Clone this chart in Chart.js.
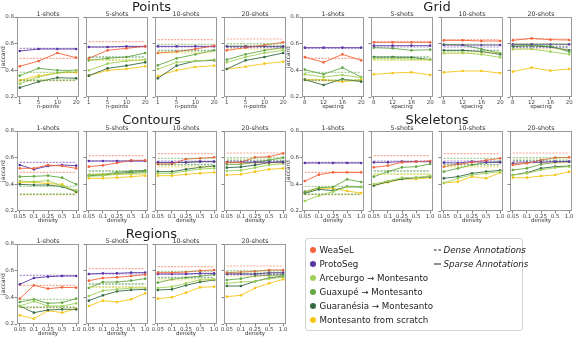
<!DOCTYPE html>
<html><head><meta charset="utf-8">
<script src="https://cdn.jsdelivr.net/npm/chart.js@4.4.1/dist/chart.umd.min.js"></script>
<style>
html,body{margin:0;padding:0;background:#fff;}
body{width:575px;height:337px;position:relative;overflow:hidden;font-family:"DejaVu Sans",sans-serif;}
canvas{position:absolute;}
.t{position:absolute;transform:translate(-50%,-50%);white-space:nowrap;line-height:1;color:#222;}
.sup{font-size:13px;}
.sub{font-size:6.3px;color:#333;}
#legend{position:absolute;left:305px;top:238px;width:216px;height:91px;border:1px solid #d3d3d3;border-radius:3px;background:#fff;}
.li{position:absolute;font-size:8.7px;line-height:1;white-space:nowrap;color:#222;transform:translateY(-50%);}
.dot{position:absolute;width:6px;height:6px;border-radius:50%;transform:translate(-50%,-50%);}
.ls{position:absolute;width:7px;height:0;transform:translateY(-50%);}
</style></head><body>
<script>
// ---------- categories / labels ----------
const shots = ['1-shots', '5-shots', '10-shots', '20-shots'];
const methods = ['WeaSeL', 'ProtoSeg', 'Arceburgo \u2192 Montesanto', 'Guaxup\u00e9 \u2192 Montesanto', 'Guaran\u00e9sia \u2192 Montesanto', 'Montesanto from scratch'];
const nPointsLabels = ['1', '5', '10', '20'];
const spacingLabels = ['8', '12', '16', '20'];
const densityLabels = ['0.05', '0.1', '0.25', '0.5', '1.0'];
const yTicks = [0.2, 0.4, 0.6, 0.8];

// ---------- dense annotation baselines (one value per shot) ----------
const denseWeaSeL = [0.49, 0.615, 0.63, 0.635];
const denseProtoSeg = [0.565, 0.575, 0.575, 0.57];
const denseArceburgo = [0.33, 0.48, 0.54, 0.59];
const denseGuaxupe = [0.385, 0.50, 0.595, 0.60];
const denseGuaranesia = [0.325, 0.50, 0.55, 0.58];
const denseMontesanto = [0.32, 0.475, 0.53, 0.56];

// ---------- sparse annotations: rows = shots ----------
const pointsWeaSeL = [[0.43,0.47,0.53,0.495],[0.49,0.55,0.565,0.58],[0.53,0.54,0.56,0.585],[0.55,0.57,0.59,0.61]];
const pointsProtoSeg = [[0.545,0.56,0.56,0.56],[0.575,0.575,0.58,0.58],[0.58,0.58,0.58,0.58],[0.58,0.58,0.58,0.58]];
const pointsArceburgo = [[0.30,0.35,0.38,0.40],[0.40,0.45,0.47,0.48],[0.41,0.46,0.47,0.48],[0.46,0.50,0.53,0.55]];
const pointsGuaxupe = [[0.36,0.415,0.40,0.40],[0.475,0.49,0.50,0.53],[0.4375,0.49,0.52,0.55],[0.48,0.52,0.55,0.57]];
const pointsGuaranesia = [[0.27,0.315,0.345,0.34],[0.36,0.415,0.435,0.46],[0.34,0.435,0.47,0.475],[0.41,0.475,0.50,0.53]];
const pointsMontesanto = [[0.325,0.36,0.38,0.385],[0.36,0.40,0.41,0.43],[0.3575,0.40,0.425,0.435],[0.41,0.4275,0.45,0.465]];

const gridWeaSeL = [[0.50,0.46,0.52,0.475],[0.61,0.61,0.61,0.61],[0.625,0.625,0.62,0.62],[0.625,0.64,0.63,0.6275]];
const gridProtoSeg = [[0.57,0.57,0.57,0.57],[0.585,0.585,0.585,0.585],[0.59,0.59,0.59,0.59],[0.595,0.595,0.595,0.595]];
const gridArceburgo = [[0.37,0.35,0.365,0.345],[0.49,0.49,0.485,0.48],[0.5275,0.53,0.52,0.4975],[0.5575,0.56,0.54,0.52]];
const gridGuaxupe = [[0.405,0.37,0.42,0.35],[0.57,0.565,0.55,0.555],[0.595,0.59,0.56,0.5275],[0.59,0.59,0.58,0.54]];
const gridGuaranesia = [[0.33,0.29,0.335,0.315],[0.50,0.50,0.4975,0.48],[0.55,0.55,0.54,0.52],[0.58,0.585,0.575,0.55]];
const gridMontesanto = [[0.33,0.33,0.315,0.33],[0.37,0.38,0.385,0.365],[0.385,0.395,0.395,0.38],[0.39,0.42,0.3975,0.41]];

const contoursWeaSeL = [[0.52,0.52,0.545,0.5375,0.52],[0.5325,0.5425,0.56,0.58,0.58],[0.5525,0.5525,0.59,0.595,0.6025],[0.565,0.565,0.6025,0.6075,0.6325]];
const contoursProtoSeg = [[0.545,0.5125,0.5375,0.545,0.54],[0.575,0.575,0.575,0.575,0.575],[0.565,0.565,0.565,0.57,0.57],[0.565,0.565,0.565,0.565,0.565]];
const contoursArceburgo = [[0.425,0.42,0.4275,0.3875,0.355],[0.46,0.465,0.475,0.48,0.49],[0.4825,0.4825,0.50,0.515,0.52],[0.50,0.505,0.525,0.545,0.555]];
const contoursGuaxupe = [[0.4575,0.46,0.465,0.45,0.40],[0.47,0.475,0.49,0.50,0.505],[0.5625,0.5625,0.565,0.57,0.57],[0.55,0.55,0.565,0.5825,0.60]];
const contoursGuaranesia = [[0.40,0.395,0.395,0.3825,0.345],[0.465,0.47,0.48,0.49,0.495],[0.495,0.495,0.5125,0.5275,0.5375],[0.525,0.53,0.545,0.5625,0.57]];
const contoursMontesanto = [[0.415,0.415,0.405,0.40,0.34],[0.445,0.445,0.45,0.4575,0.465],[0.465,0.465,0.475,0.4825,0.49],[0.47,0.475,0.495,0.5125,0.52]];

const skeletonsWeaSeL = [[0.425,0.4725,0.49,0.49,0.49],[0.5275,0.54,0.565,0.57,0.575],[0.5325,0.55,0.565,0.58,0.595],[0.545,0.5575,0.5825,0.60,0.6025]];
const skeletonsProtoSeg = [[0.56,0.56,0.56,0.56,0.56],[0.565,0.565,0.57,0.57,0.57],[0.5625,0.56,0.57,0.565,0.565],[0.5575,0.5625,0.565,0.57,0.57]];
const skeletonsArceburgo = [[0.275,0.315,0.345,0.38,0.3825],[0.4025,0.425,0.45,0.45,0.465],[0.41,0.445,0.47,0.4825,0.495],[0.47,0.4825,0.5075,0.525,0.5325]];
const skeletonsGuaxupe = [[0.345,0.375,0.38,0.4375,0.4175],[0.4575,0.495,0.5275,0.5325,0.5525],[0.495,0.52,0.545,0.565,0.57],[0.5075,0.52,0.55,0.565,0.57]];
const skeletonsGuaranesia = [[0.3325,0.3625,0.3525,0.3825,0.38],[0.39,0.42,0.44,0.45,0.4575],[0.445,0.4575,0.4825,0.495,0.505],[0.47,0.4875,0.52,0.5325,0.5375]];
const skeletonsMontesanto = [[0.34,0.37,0.37,0.35,0.335],[0.395,0.415,0.44,0.44,0.45],[0.41,0.42,0.4575,0.445,0.4875],[0.45,0.45,0.4625,0.47,0.495]];

const regionsWeaSeL = [[0.39,0.49,0.465,0.475,0.4725],[0.525,0.545,0.55,0.56,0.57],[0.585,0.585,0.59,0.60,0.605],[0.585,0.59,0.595,0.605,0.605]];
const regionsProtoSeg = [[0.4975,0.545,0.555,0.56,0.56],[0.575,0.58,0.58,0.585,0.585],[0.575,0.575,0.575,0.58,0.58],[0.575,0.575,0.575,0.585,0.585]];
const regionsArceburgo = [[0.335,0.37,0.335,0.335,0.355],[0.41,0.45,0.46,0.47,0.47],[0.47,0.48,0.505,0.53,0.535],[0.505,0.515,0.52,0.54,0.55]];
const regionsGuaxupe = [[0.365,0.385,0.355,0.36,0.39],[0.47,0.515,0.515,0.525,0.54],[0.51,0.535,0.547,0.56,0.57],[0.53,0.54,0.56,0.565,0.57]];
const regionsGuaranesia = [[0.335,0.285,0.305,0.31,0.31],[0.375,0.415,0.445,0.455,0.46],[0.455,0.46,0.49,0.515,0.53],[0.485,0.485,0.52,0.545,0.56]];
const regionsMontesanto = [[0.265,0.24,0.30,0.285,0.315],[0.335,0.375,0.365,0.385,0.43],[0.39,0.40,0.435,0.475,0.48],[0.405,0.415,0.47,0.505,0.535]];

// ---------- styling ----------
const COLORS = ['#f4633a', '#5b35a6', '#9fd15a', '#64a845', '#366b45', '#f5c518'];
const FONT = 'DejaVu Sans';
const denseAll = [denseWeaSeL, denseProtoSeg, denseArceburgo, denseGuaxupe, denseGuaranesia, denseMontesanto];

function rgba(hex, a) {
  const n = parseInt(hex.slice(1), 16);
  return `rgba(${(n >> 16) & 255},${(n >> 8) & 255},${n & 255},${a})`;
}

const boxPlugin = {
  id: 'boxBorder',
  afterDatasetsDraw(chart) {
    const a = chart.chartArea, ctx = chart.ctx;
    ctx.save();
    ctx.strokeStyle = '#9a9a9a';
    ctx.lineWidth = 1;
    ctx.strokeRect(Math.round(a.left) + 0.5, Math.round(a.top) + 0.5, Math.round(a.right - a.left) - 1, Math.round(a.bottom - a.top) - 1);
    ctx.restore();
  }
};

const groups = [
  {title: 'Points', x0: 17, step: 69, top: 17, labels: nPointsLabels, xTitle: 'n-points',
   series: [pointsWeaSeL, pointsProtoSeg, pointsArceburgo, pointsGuaxupe, pointsGuaranesia, pointsMontesanto]},
  {title: 'Grid', x0: 302, step: 69.4, top: 17, labels: spacingLabels, xTitle: 'spacing',
   series: [gridWeaSeL, gridProtoSeg, gridArceburgo, gridGuaxupe, gridGuaranesia, gridMontesanto]},
  {title: 'Contours', x0: 17, step: 69, top: 131, labels: densityLabels, xTitle: 'density',
   series: [contoursWeaSeL, contoursProtoSeg, contoursArceburgo, contoursGuaxupe, contoursGuaranesia, contoursMontesanto]},
  {title: 'Skeletons', x0: 302, step: 69.4, top: 131, labels: densityLabels, xTitle: 'density',
   series: [skeletonsWeaSeL, skeletonsProtoSeg, skeletonsArceburgo, skeletonsGuaxupe, skeletonsGuaranesia, skeletonsMontesanto]},
  {title: 'Regions', x0: 17, step: 69, top: 244, labels: densityLabels, xTitle: 'density',
   series: [regionsWeaSeL, regionsProtoSeg, regionsArceburgo, regionsGuaxupe, regionsGuaranesia, regionsMontesanto]}
];

const BW = 62, BH = 80;

function addText(cls, txt, cx, cy) {
  const d = document.createElement('div');
  d.className = 't ' + cls;
  d.textContent = txt;
  d.style.left = cx + 'px';
  d.style.top = cy + 'px';
  document.body.appendChild(d);
}

function makePanel(g, s) {
  const first = s === 0;
  const boxLeft = Math.round(g.x0 + s * g.step);
  const boxTop = g.top;
  const L = first ? 17 : 5, T = 4, R = 4, B = 13;
  const W = L + BW + R, H = T + BH + B;
  const cv = document.createElement('canvas');
  cv.width = W; cv.height = H;
  cv.style.width = W + 'px'; cv.style.height = H + 'px';
  cv.style.left = (boxLeft - L) + 'px';
  cv.style.top = (boxTop - T) + 'px';
  document.body.appendChild(cv);

  const n = g.labels.length;
  const m = 0.05 * (n - 1);
  const datasets = [];
  denseAll.forEach((d, k) => {
    datasets.push({
      data: [{x: 0, y: d[s]}, {x: n - 1, y: d[s]}],
      borderColor: rgba(COLORS[k], 0.55), borderWidth: 1.2, borderDash: [2, 1.3],
      pointRadius: 0, fill: false, tension: 0
    });
  });
  g.series.forEach((arr, k) => {
    datasets.push({
      data: g.labels.map((_, i) => ({x: i, y: arr[s][i]})),
      borderColor: COLORS[k], borderWidth: 0.9,
      pointRadius: 1.3, pointBackgroundColor: COLORS[k], pointBorderWidth: 0,
      pointStyle: 'circle', fill: false, tension: 0
    });
  });
  const gridOpt = {display: true, drawOnChartArea: false, drawTicks: true, tickLength: 2.5, color: '#666', lineWidth: 0.8};

  new Chart(cv, {
    type: 'line',
    data: {datasets},
    plugins: [boxPlugin],
    options: {
      responsive: false, animation: false, devicePixelRatio: 1,
      layout: {padding: {top: T, right: R, left: 0, bottom: 0}},
      plugins: {legend: {display: false}, tooltip: {enabled: false}, title: {display: false}},
      scales: {
        x: {
          type: 'linear', min: -m, max: n - 1 + m,
          afterBuildTicks: sc => { sc.ticks = g.labels.map((_, i) => ({value: i})); },
          ticks: {callback: v => g.labels[v], font: {family: FONT, size: 5.5}, color: '#444', padding: 0, maxRotation: 0, autoSkip: false},
          grid: gridOpt, border: {display: false},
          title: {display: true, text: g.xTitle, font: {family: FONT, size: 5.5}, color: '#333', padding: 0},
          afterFit: sc => { sc.height = B; sc.paddingLeft = 0; sc.paddingRight = 0; }
        },
        y: {
          type: 'linear', min: 0.2, max: 0.8,
          afterBuildTicks: sc => { sc.ticks = yTicks.map(v => ({value: v})); },
          ticks: {display: first, callback: v => v.toFixed(1), font: {family: FONT, size: 5.5}, color: '#444', padding: 0.5},
          grid: gridOpt, border: {display: false},
          title: {display: first, text: 'jaccard', font: {family: FONT, size: 6}, color: '#333', padding: 0},
          afterFit: sc => { sc.width = L; sc.paddingTop = 0; sc.paddingBottom = 0; }
        }
      }
    }
  });
  addText('sub', shots[s], boxLeft + BW / 2, boxTop - 3.5);
}

groups.forEach(g => {
  for (let s = 0; s < shots.length; s++) makePanel(g, s);
  const x1 = Math.round(g.x0), x4 = Math.round(g.x0 + 3 * g.step) + BW;
  addText('sup', g.title, (x1 + x4) / 2, g.top - (g.top === 17 ? 11 : (g.top === 131 ? 12.5 : 11.5)));
});

// ---------- legend ----------
const lg = document.createElement('div');
lg.id = 'legend';
document.body.appendChild(lg);
const rowY = [249.5, 263.5, 277.5, 291.5, 305.5, 319.5];
methods.forEach((name, k) => {
  const dot = document.createElement('div');
  dot.className = 'dot';
  dot.style.background = COLORS[k];
  dot.style.left = '312.7px'; dot.style.top = rowY[k] + 'px';
  document.body.appendChild(dot);
  const t = document.createElement('div');
  t.className = 'li';
  t.textContent = name;
  t.style.left = '319.5px'; t.style.top = rowY[k] + 'px';
  document.body.appendChild(t);
});
const styleNames = ['Dense Annotations', 'Sparse Annotations'];
styleNames.forEach((name, k) => {
  const l = document.createElement('div');
  l.className = 'ls';
  l.style.left = '434px'; l.style.top = rowY[k] + 'px';
  l.style.borderTop = k === 0 ? '1.2px dashed #222' : '1.3px solid #222';
  document.body.appendChild(l);
  const t = document.createElement('div');
  t.className = 'li';
  t.style.fontStyle = 'italic';
  t.textContent = name;
  t.style.left = '443.5px'; t.style.top = rowY[k] + 'px';
  document.body.appendChild(t);
});
</script>
</body></html>
